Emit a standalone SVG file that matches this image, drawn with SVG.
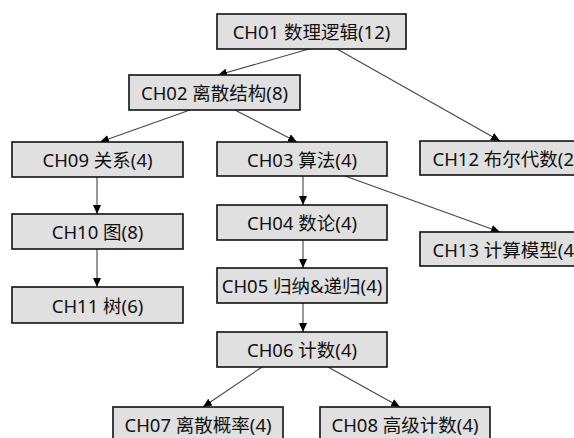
<svg xmlns="http://www.w3.org/2000/svg" width="574" height="438" viewBox="0 0 574 438">
<defs>
<marker id="arr" markerUnits="userSpaceOnUse" markerWidth="10" markerHeight="8" refX="9" refY="4" orient="auto">
<path d="M0,0 L9,4 L0,8 Z" fill="#000"/>
</marker>
<style>
.box{fill:#e0e0e0;stroke:#111;stroke-width:1.6}
.lbl{font-family:"Noto Sans","Noto Sans CJK SC",sans-serif;font-size:18.5px;fill:#111;text-anchor:middle;dominant-baseline:central}
.edge{stroke:#444;stroke-width:1.1;fill:none;marker-end:url(#arr)}
</style>
</defs>
<rect width="574" height="438" fill="#fff"/>
<g id="edges">
<line class="edge" x1="309" y1="49" x2="218" y2="75"/>
<line class="edge" x1="337" y1="49" x2="500" y2="141"/>
<line class="edge" x1="190" y1="110" x2="100" y2="142"/>
<line class="edge" x1="235" y1="110" x2="297" y2="142"/>
<line class="edge" x1="97" y1="177" x2="97" y2="214"/>
<line class="edge" x1="97" y1="249" x2="97" y2="287"/>
<line class="edge" x1="303" y1="176" x2="303" y2="205"/>
<line class="edge" x1="345" y1="176" x2="500" y2="232"/>
<line class="edge" x1="303" y1="240" x2="303" y2="268"/>
<line class="edge" x1="303" y1="303" x2="303" y2="332"/>
<line class="edge" x1="262" y1="367" x2="203" y2="407"/>
<line class="edge" x1="328" y1="367" x2="400" y2="407"/>
</g>
<g id="ch01"><rect class="box" x="217" y="14" width="189" height="35"/><text class="lbl" x="311.5" y="31.5">CH01 数理逻辑(12)</text></g>
<g id="ch02"><rect class="box" x="129" y="75" width="171" height="35"/><text class="lbl" x="214.5" y="92.5">CH02 离散结构(8)</text></g>
<g id="ch09"><rect class="box" x="12" y="142" width="171" height="35"/><text class="lbl" x="97.5" y="159.5">CH09 关系(4)</text></g>
<g id="ch03"><rect class="box" x="217" y="142" width="170" height="34"/><text class="lbl" x="302" y="159">CH03 算法(4)</text></g>
<g id="ch12"><rect class="box" x="420" y="141" width="172" height="34"/><text class="lbl" x="506" y="158">CH12 布尔代数(2)</text></g>
<g id="ch10"><rect class="box" x="12" y="214" width="171" height="35"/><text class="lbl" x="97.5" y="231.5">CH10 图(8)</text></g>
<g id="ch04"><rect class="box" x="217" y="205" width="170" height="35"/><text class="lbl" x="302" y="222.5">CH04 数论(4)</text></g>
<g id="ch13"><rect class="box" x="420" y="232" width="172" height="34"/><text class="lbl" x="506" y="249">CH13 计算模型(4)</text></g>
<g id="ch11"><rect class="box" x="12" y="287" width="171" height="36"/><text class="lbl" x="97.5" y="305">CH11 树(6)</text></g>
<g id="ch05"><rect class="box" x="217" y="268" width="170" height="35"/><text class="lbl" x="302" y="285.5">CH05 归纳&amp;递归(4)</text></g>
<g id="ch06"><rect class="box" x="217" y="332" width="170" height="35"/><text class="lbl" x="302" y="349.5">CH06 计数(4)</text></g>
<g id="ch07"><rect class="box" x="113" y="407" width="170" height="35"/><text class="lbl" x="198" y="424.5">CH07 离散概率(4)</text></g>
<g id="ch08"><rect class="box" x="320" y="407" width="170" height="35"/><text class="lbl" x="405" y="424.5">CH08 高级计数(4)</text></g>
</svg>
